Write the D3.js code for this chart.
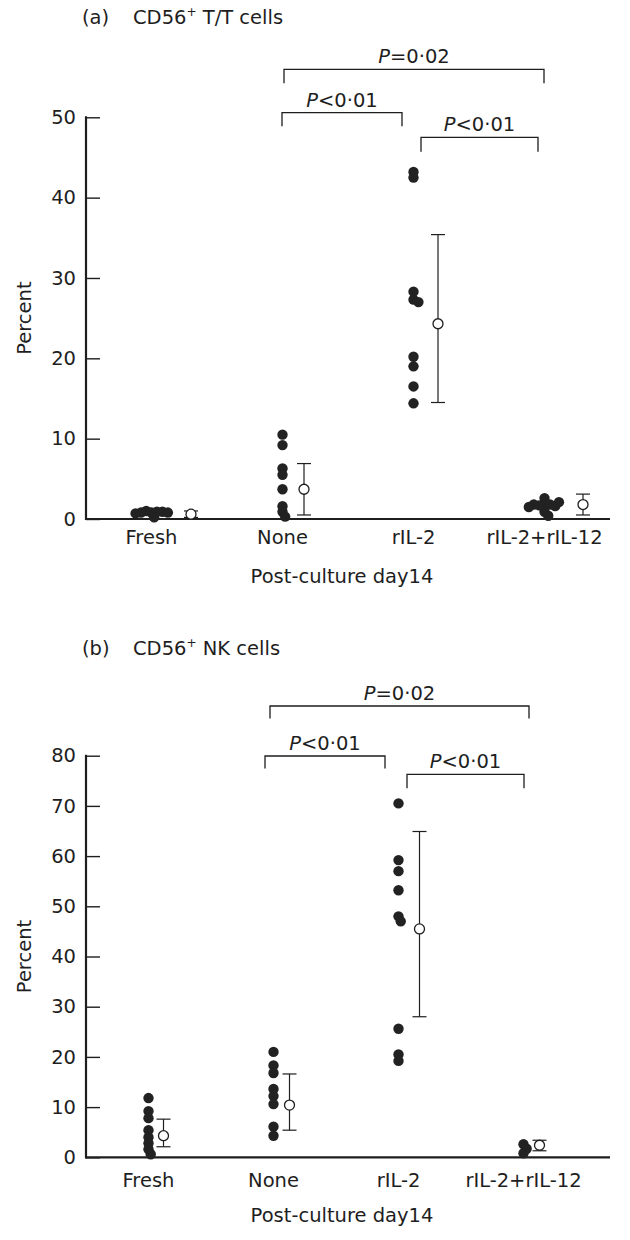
<!DOCTYPE html>
<html><head><meta charset="utf-8">
<script src="https://cdn.jsdelivr.net/npm/d3@7"></script>
<style>
body{margin:0;background:#fff}
svg{display:block}
text{font-family:"DejaVu Sans",sans-serif;fill:#1e1e1e}
</style>
</head><body>
<svg id="c" width="630" height="1240"></svg>
<script>
// ---------- data ----------
const categories = ["Fresh", "None", "rIL-2", "rIL-2+rIL-12"];
const yTicksA = [0, 10, 20, 30, 40, 50];
const yTicksB = [0, 10, 20, 30, 40, 50, 60, 70, 80];

// Panel (a) CD56+ T/T cells : individual values (%)
const freshA = [0.8, 0.9, 1.0, 0.8, 0.9, 0.7, 0.8, 0.2];
const noneA = [10.5, 9.2, 6.3, 5.5, 3.7, 1.6, 0.9, 0.3];
const il2A = [43.2, 42.5, 28.3, 27.3, 27.0, 20.2, 19.0, 16.5, 14.4];
const il2il12A = [2.6, 1.9, 1.8, 1.7, 1.8, 1.6, 1.5, 2.1, 0.9, 0.4];
const meanA = [0.6, 3.7, 24.3, 1.8];
const lowA = [0.2, 0.5, 14.5, 0.5];
const highA = [1.0, 6.9, 35.4, 3.1];

// Panel (b) CD56+ NK cells
const freshB = [11.8, 9.2, 7.8, 5.4, 4.0, 2.8, 1.6, 0.6];
const noneB = [21.0, 18.3, 16.8, 13.6, 12.2, 10.6, 6.1, 4.3];
const il2B = [70.5, 59.2, 57.0, 53.2, 48.0, 47.0, 25.6, 20.5, 19.2];
const il2il12B = [2.6, 1.7, 0.8];
const meanB = [4.3, 10.4, 45.5, 2.4];
const lowB = [2.1, 5.4, 28.0, 1.3];
const highB = [7.6, 16.6, 64.9, 3.4];

// significance brackets
const bracketPairs = [["None", "rIL-2+rIL-12"], ["None", "rIL-2"], ["rIL-2", "rIL-2+rIL-12"]];
const pLabels = ["=0·02", "<0·01", "<0·01"];

// ---------- layout ----------
const panels = [
  {
    tag: "(a)", name: " T/T cells", groups: [freshA, noneA, il2A, il2il12A],
    mean: meanA, low: lowA, high: highA, ticks: yTicksA, yMax: 50,
    titleY: 24, top: 117.3, bottom: 519, band: [86, 610], axisEnd: 610,
    meanDx: [39.5, 21.5, 24.5, 38.5],
    labelDy: 25, titleDy: 64,
    br: [{y: 69.3, drop: 14, d: [1.5, -0.5]}, {y: 112.7, drop: 13.5, d: [-0.5, -11.5]}, {y: 137.3, drop: 14.4, d: [7.5, -6.5]}]
  },
  {
    tag: "(b)", name: " NK cells", groups: [freshB, noneB, il2B, il2il12B],
    mean: meanB, low: lowB, high: highB, ticks: yTicksB, yMax: 80,
    titleY: 655, top: 755.7, bottom: 1157.3, band: [86, 586], axisEnd: 610,
    meanDx: [15, 16, 21, 16],
    labelDy: 30, titleDy: 65,
    br: [{y: 706, drop: 12.5, d: [-3.5, 5.5]}, {y: 756, drop: 12.5, d: [-8.5, -13.5]}, {y: 774.3, drop: 14, d: [8.5, 0.5]}]
  }
];

const svg = d3.select("#c");
const FS = 19.5;
const INK = "#1e1e1e";

function swarm(values, y, minDist) {
  const placed = [];
  values.forEach(v => {
    const py = y(v);
    const forb = [];
    placed.forEach(p => {
      const dy = Math.abs(p.y - py);
      if (dy < minDist) {
        const h = Math.sqrt(minDist * minDist - dy * dy);
        forb.push([p.x - h, p.x + h]);
      }
    });
    const cands = [0];
    forb.forEach(f => { cands.push(f[0], f[1]); });
    cands.sort((a, b) => Math.abs(a) - Math.abs(b) || b - a);
    let x = 0;
    for (const c of cands) {
      if (forb.every(f => c <= f[0] + 1e-6 || c >= f[1] - 1e-6)) { x = c; break; }
    }
    placed.push({x: x, y: py, v: v});
  });
  return placed;
}

panels.forEach(P => {
  const g = svg.append("g");
  const y = d3.scaleLinear().domain([0, P.yMax]).range([P.bottom, P.top]);
  const x = d3.scaleBand().domain(categories).range(P.band);
  const cx = c => x(c) + x.bandwidth() / 2;
  const x0 = P.band[0];

  // title
  const t = g.append("text").attr("x", 82).attr("y", P.titleY).attr("font-size", FS);
  t.text(P.tag);
  const t2 = g.append("text").attr("x", 133).attr("y", P.titleY).attr("font-size", FS);
  t2.append("tspan").text("CD56");
  t2.append("tspan").attr("font-size", FS * 0.62).attr("dy", -8).text("+");
  t2.append("tspan").attr("dy", 8).text(P.name);

  // y axis
  const ya = d3.axisLeft(y).tickValues(P.ticks).tickFormat(d3.format("d"))
    .tickSizeInner(-14).tickSizeOuter(0).tickPadding(10);
  const yg = g.append("g").attr("transform", `translate(${x0},0)`).call(ya);
  yg.select(".domain").remove();
  yg.selectAll(".tick line").attr("stroke", INK).attr("stroke-width", 1.4);
  yg.selectAll(".tick text").attr("font-size", FS).attr("font-family", "DejaVu Sans, sans-serif").attr("fill", INK);
  g.append("line").attr("x1", x0).attr("x2", x0).attr("y1", P.top - 1).attr("y2", P.bottom + 1)
    .attr("stroke", INK).attr("stroke-width", 2.2);

  // x axis
  g.append("line").attr("x1", x0 - 1).attr("x2", P.axisEnd).attr("y1", P.bottom).attr("y2", P.bottom)
    .attr("stroke", INK).attr("stroke-width", 2.2);
  const xa = d3.axisBottom(x).tickSize(0).tickPadding(0);
  const xg = g.append("g").attr("transform", `translate(0,${P.bottom})`).call(xa);
  xg.select(".domain").remove();
  xg.selectAll(".tick text").attr("font-size", FS).attr("font-family", "DejaVu Sans, sans-serif")
    .attr("fill", INK).attr("dy", null).attr("y", P.labelDy);

  g.append("text").attr("x", 342).attr("y", P.bottom + P.titleDy)
    .attr("text-anchor", "middle").attr("font-size", FS).text("Post-culture day14");

  g.append("text").attr("transform", `translate(31,${(P.top + P.bottom) / 2}) rotate(-90)`)
    .attr("text-anchor", "middle").attr("font-size", FS).text("Percent");

  // dots
  P.groups.forEach((vals, i) => {
    const pts = swarm(vals, y, 5.5);
    g.selectAll(null).data(pts).enter().append("circle")
      .attr("cx", d => cx(categories[i]) + d.x).attr("cy", d => d.y).attr("r", 5.2)
      .attr("fill", "#222");
  });

  // mean +/- error
  categories.forEach((c, i) => {
    const mx = cx(c) + P.meanDx[i];
    g.append("line").attr("x1", mx).attr("x2", mx).attr("y1", y(P.low[i])).attr("y2", y(P.high[i]))
      .attr("stroke", INK).attr("stroke-width", 1.2);
    [P.low[i], P.high[i]].forEach(v => {
      g.append("line").attr("x1", mx - 7).attr("x2", mx + 7).attr("y1", y(v)).attr("y2", y(v))
        .attr("stroke", INK).attr("stroke-width", 1.2);
    });
    g.append("circle").attr("cx", mx).attr("cy", y(P.mean[i])).attr("r", 5)
      .attr("fill", "#fff").attr("stroke", INK).attr("stroke-width", 1.3);
  });

  // brackets
  bracketPairs.forEach((pair, k) => {
    const b = P.br[k];
    const xa1 = cx(pair[0]) + b.d[0], xa2 = cx(pair[1]) + b.d[1];
    g.append("path").attr("d", `M${xa1},${b.y + b.drop}V${b.y}H${xa2}V${b.y + b.drop}`)
      .attr("fill", "none").attr("stroke", INK).attr("stroke-width", 1.3);
    const tt = g.append("text").attr("x", (xa1 + xa2) / 2).attr("y", b.y - 6)
      .attr("text-anchor", "middle").attr("font-size", FS);
    tt.append("tspan").attr("font-style", "italic").text("P");
    tt.append("tspan").text(pLabels[k]);
  });
});
</script>
</body></html>
